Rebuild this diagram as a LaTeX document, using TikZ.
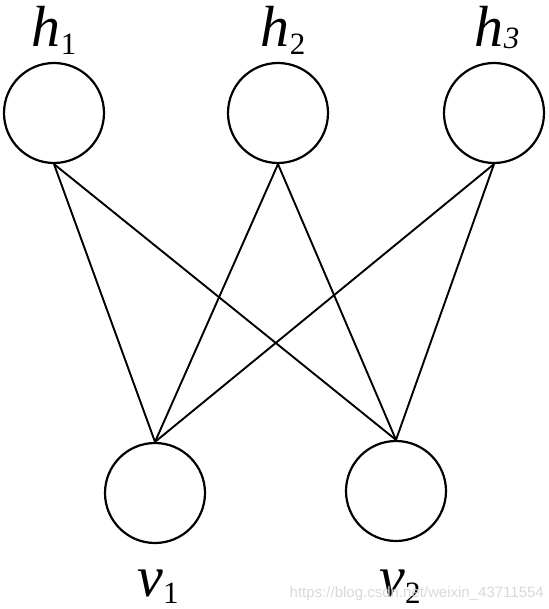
\documentclass[tikz,border=0pt]{standalone}
\usepackage{fontspec}
\setmainfont{Liberation Serif}
\setsansfont{Liberation Sans}
\begin{document}
\begin{tikzpicture}[x=1pt,y=-1pt,
  unit/.style={circle,draw,line width=2.2pt,minimum size=100pt,inner sep=0pt},
  conn/.style={line width=1.9pt},
  lbl/.style={anchor=base,inner sep=0pt,font=\fontsize{58}{60}\selectfont\itshape}]
\useasboundingbox (0,0) rectangle (548,609);
\node[unit] (h1) at (54,113) {};
\node[unit] (h2) at (278,113) {};
\node[unit] (h3) at (494,113) {};
\node[unit] (v1) at (155,493) {};
\node[unit] (v2) at (396,491) {};
\node[lbl] (lh1) at (54,47) {h\raisebox{-8pt}{\fontsize{31}{32}\selectfont\upshape 1}};
\node[lbl] (lh2) at (283,47) {h\raisebox{-8pt}{\fontsize{31}{32}\selectfont\upshape 2}};
\node[lbl] (lh3) at (497,47) {h\raisebox{-2pt}{\fontsize{31}{32}\selectfont\itshape 3}};
\node[lbl] (lv1) at (158,596) {v\raisebox{-7pt}{\fontsize{31}{32}\selectfont\upshape 1}};
\node[lbl] (lv2) at (400,596) {v\raisebox{-7pt}{\fontsize{31}{32}\selectfont\upshape 2}};
\node[anchor=base east,inner sep=0pt,text=black!15,font=\sffamily\fontsize{15}{16}\selectfont] (wm) at (544,597) {https://blog.csdn.net/weixin\_43711554};
\foreach \h in {h1,h2,h3}{
  \foreach \v in {v1,v2}{
    \draw[conn] (\h.south) -- (\v.north);
  }
}
\end{tikzpicture}
\end{document}
